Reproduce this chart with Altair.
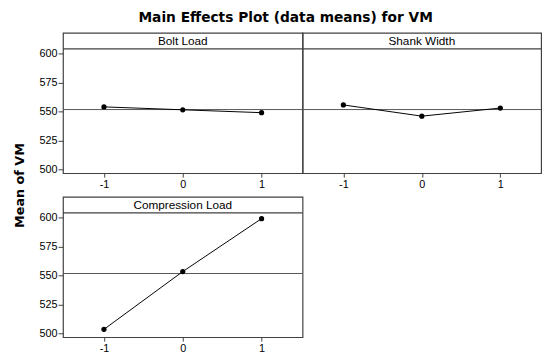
import altair as alt
import pandas as pd

factors = ["Bolt Load", "Shank Width", "Compression Load"]
levels = [-1, 0, 1]
bolt_means = [554.0, 551.5, 549.0]
shank_means = [555.7, 546.0, 553.0]
comp_means = [503.4, 553.4, 599.2]
grand_mean = 551.7
y_ticks = [500, 525, 550, 575, 600]
x_ticks = [-1, 0, 1]

FONT = "Liberation Sans"
BORDER = "#404040"
Y_DOMAIN = [496.6, 618.1]
HEADER_LINE = 604.2


def panel(name, means, width, height, show_y, ytitle=None):
    df = pd.DataFrame({"level": levels, "mean": means})
    xenc = alt.X(
        "level:Q",
        scale=alt.Scale(domain=[-1.52, 1.52], nice=False, zero=False),
        axis=alt.Axis(values=x_ticks, title=None, grid=False, domain=False,
                      tickSize=4, tickColor=BORDER, labelFont=FONT,
                      labelFontSize=11, labelColor="black", labelPadding=2,
                      labelExpr="'' + datum.value"),
    )
    if show_y:
        if ytitle:
            yaxis = alt.Axis(values=y_ticks, grid=False, domain=False, tickSize=5,
                             tickColor=BORDER, labelFont=FONT, labelFontSize=11,
                             labelColor="black", labelPadding=1, labelOverlap=False,
                             title=ytitle, titleFont="DejaVu Sans",
                             titleFontSize=13, titleFontWeight="bold",
                             titleColor="black", titleX=-44, titleY=-12,
                             titleAlign="center", titleBaseline="middle",
                             titleAngle=270)
        else:
            yaxis = alt.Axis(values=y_ticks, grid=False, domain=False, tickSize=5,
                             tickColor=BORDER, labelFont=FONT, labelFontSize=11,
                             labelColor="black", labelPadding=1, labelOverlap=False,
                             title=None)
    else:
        yaxis = None
    yenc = alt.Y("mean:Q", scale=alt.Scale(domain=Y_DOMAIN, nice=False, zero=False),
                 axis=yaxis)

    line = alt.Chart(df).mark_line(color="black", strokeWidth=1).encode(x=xenc, y=yenc)
    pts = alt.Chart(df).mark_circle(color="black", size=28, opacity=1).encode(x=xenc, y=yenc)
    mean_rule = alt.Chart(pd.DataFrame({"mean": [grand_mean]})).mark_rule(
        color="#555555", strokeWidth=1).encode(y=yenc)
    hdr_df = pd.DataFrame({"mean": [HEADER_LINE], "t": [name]})
    hdr_rule = alt.Chart(hdr_df).mark_rule(color=BORDER, strokeWidth=1.2).encode(y=yenc)
    hdr_text = alt.Chart(hdr_df).mark_text(font=FONT, fontSize=12, color="black",
                                           baseline="middle").encode(
        text="t:N", x=alt.value(width / 2), y=alt.value(8))
    return alt.layer(mean_rule, hdr_rule, line, pts, hdr_text).properties(
        width=width, height=height)


tl = panel(factors[0], bolt_means, 244, 143, True)
tr = panel(factors[1], shank_means, 243, 143, False)
bl = panel(factors[2], comp_means, 244, 143, True, ytitle="Mean of VM")

chart = alt.concat(tl, tr, bl, columns=2, spacing={"row": 24, "column": 0},
                   bounds="flush").properties(
    title=alt.TitleParams("Main Effects Plot (data means) for VM",
                          font="DejaVu Sans", fontSize=14, fontWeight="bold",
                          color="black", anchor="middle", dx=8, offset=7),
    padding={"left": 5, "top": 0, "right": 5, "bottom": 5},
).configure_view(stroke=BORDER, strokeWidth=1.2)

chart.save("out.html", embed_options={"renderer": "svg", "actions": False})
